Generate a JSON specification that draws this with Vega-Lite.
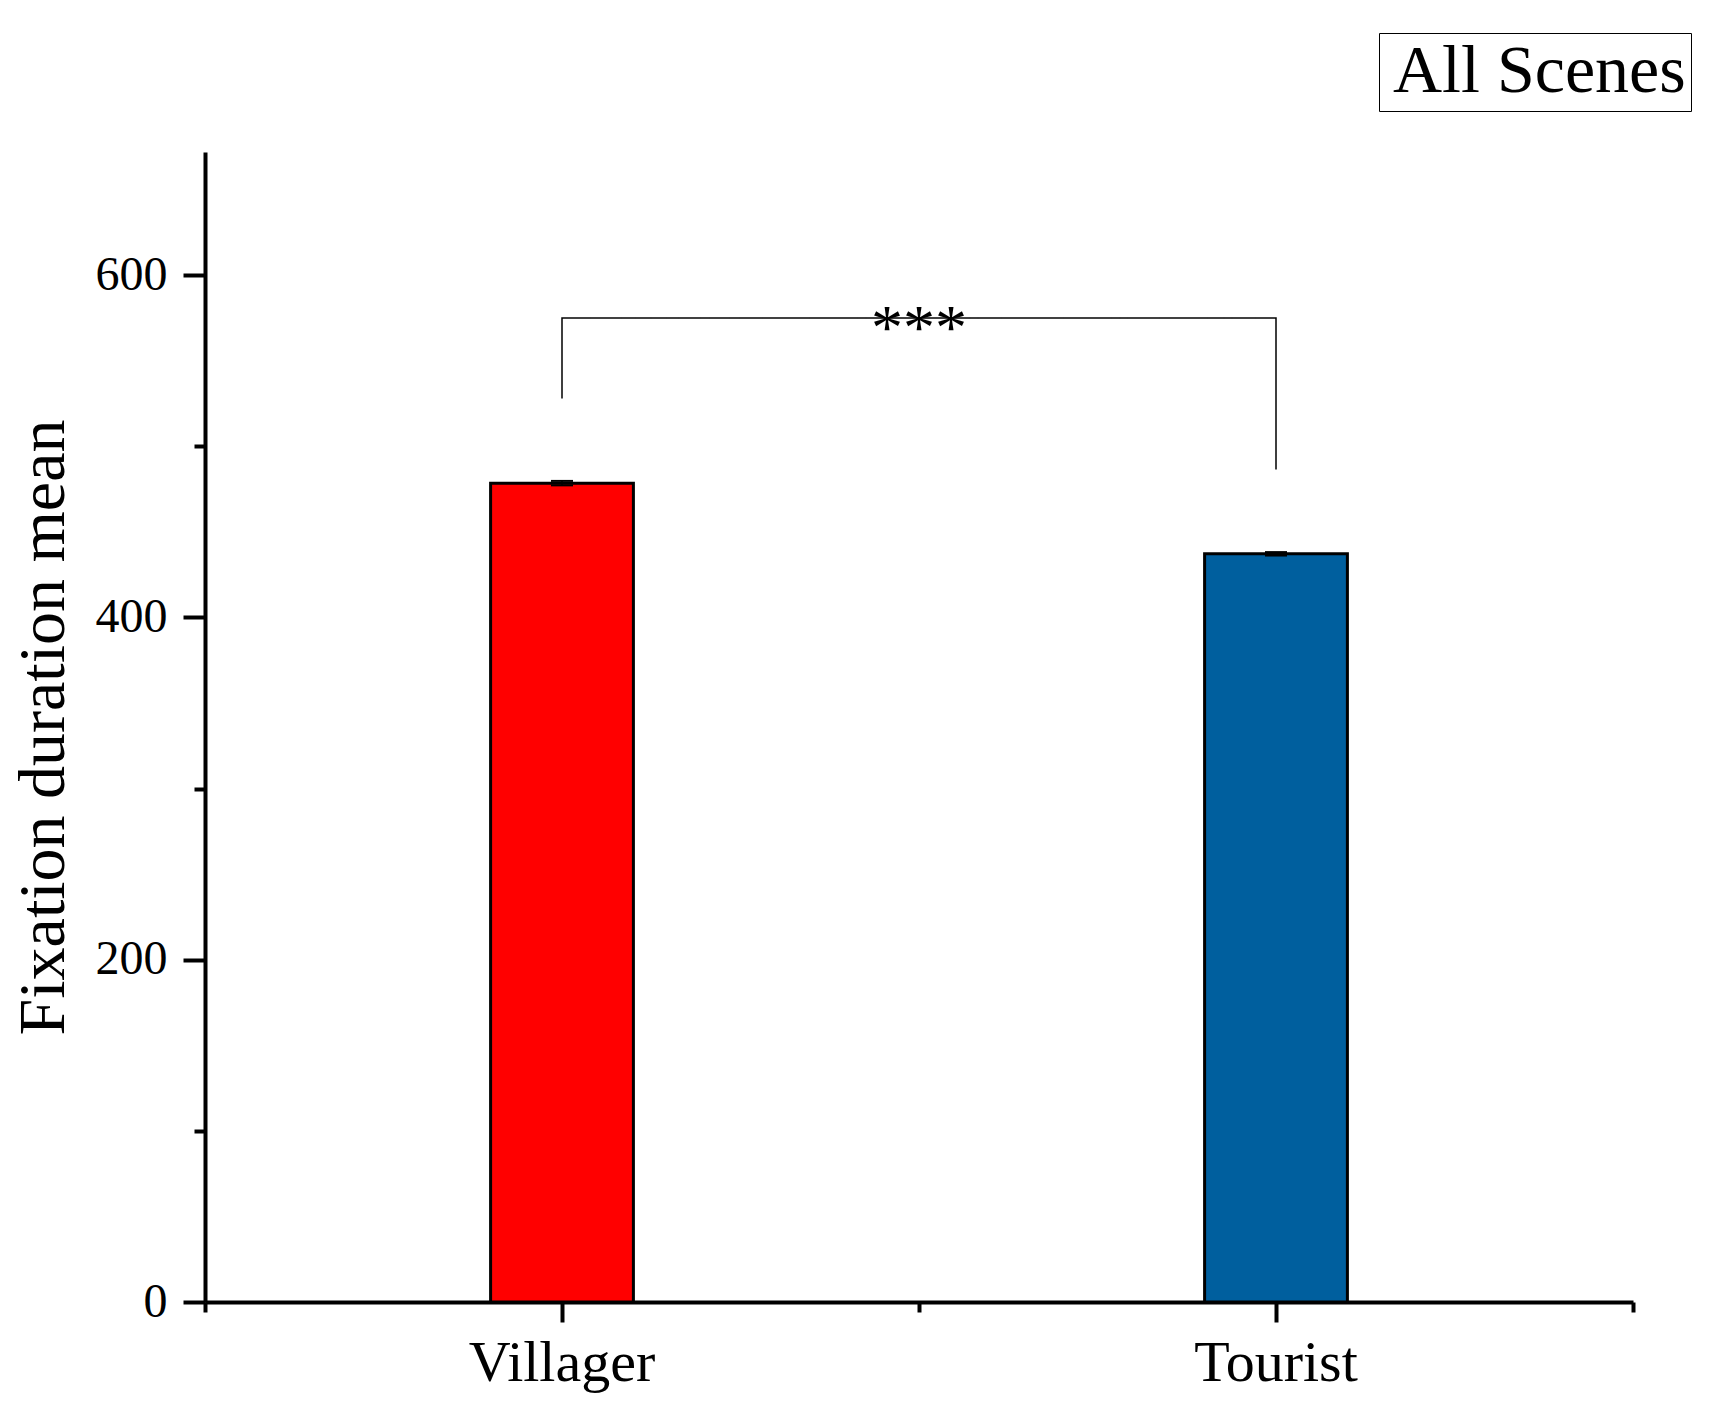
{
  "$schema": "https://vega.github.io/schema/vega-lite/v6.json",
  "autosize": {"type": "none"},
  "width": 1428,
  "height": 1150,
  "padding": {"left": 205, "top": 152, "right": 102, "bottom": 110},
  "background": "white",
  "config": {"view": {"stroke": null}, "font": "Liberation Serif"},
  "datasets": {
    "bars": [
      {"group": "Villager", "mean": 478.5, "lo": 477.2, "hi": 479.8},
      {"group": "Tourist", "mean": 437.2, "lo": 436.2, "hi": 438.2}
    ],
    "bracket": [
      {"group": "Villager", "y": 528, "step": 1},
      {"group": "Villager", "y": 575, "step": 2},
      {"group": "Tourist", "y": 575, "step": 3},
      {"group": "Tourist", "y": 486.5, "step": 4}
    ],
    "sig": [{"group": "Tourist", "y": 575, "label": "***"}]
  },
  "layer": [
    {
      "data": {"name": "bars"},
      "mark": {"type": "bar", "width": {"band": 0.2}, "stroke": "black", "strokeWidth": 3},
      "encoding": {
        "x": {
          "field": "group", "type": "nominal",
          "scale": {"domain": ["Villager", "Tourist"], "paddingInner": 0, "paddingOuter": 0},
          "axis": {
            "title": null, "orient": "bottom", "labelAngle": 0,
            "domainColor": "black", "domainWidth": 4,
            "tickColor": "black", "tickWidth": 4, "tickSize": 20,
            "labelFontSize": 58, "labelColor": "black", "labelPadding": 12,
            "labelFont": "Liberation Serif", "labelLimit": 0, "grid": false
          }
        },
        "y": {
          "field": "mean", "type": "quantitative",
          "scale": {"domain": [0, 672], "nice": false, "zero": true},
          "axis": {
            "title": "Fixation duration mean",
            "orient": "left",
            "values": [0, 100, 200, 300, 400, 500, 600],
            "labelExpr": "datum.value % 200 === 0 ? datum.label : ''",
            "tickSize": {"condition": {"test": "datum.value % 200 === 0", "value": 22}, "value": 11},
            "tickColor": "black", "tickWidth": 4,
            "domainColor": "black", "domainWidth": 4,
            "labelFontSize": 48, "labelColor": "black", "labelPadding": 16,
            "labelFont": "Liberation Serif", "labelLimit": 0,
            "titleFont": "Liberation Serif", "titleFontSize": 66, "titleFontWeight": "normal",
            "titleColor": "black", "titlePadding": 18, "titleLimit": 0, "grid": false
          }
        },
        "color": {
          "field": "group", "type": "nominal",
          "scale": {"domain": ["Villager", "Tourist"], "range": ["#FF0000", "#005F9E"]},
          "legend": null
        }
      }
    },
    {
      "data": {"name": "bars"},
      "mark": {"type": "bar", "width": {"band": 0.2}, "opacity": 0},
      "encoding": {
        "x": {
          "field": "group", "type": "nominal",
          "axis": {
            "title": null, "orient": "bottom", "labels": false, "domain": false,
            "tickBand": "extent", "tickSize": 10, "tickWidth": 4, "tickColor": "black", "grid": false
          }
        },
        "y": {"field": "mean", "type": "quantitative", "axis": null}
      }
    },
    {
      "data": {"name": "bars"},
      "mark": {"type": "rule", "color": "black", "strokeWidth": 1.5},
      "encoding": {
        "x": {"field": "group", "type": "nominal", "axis": null},
        "y": {"field": "lo", "type": "quantitative", "axis": null},
        "y2": {"field": "hi"}
      }
    },
    {
      "data": {"name": "bars"},
      "mark": {"type": "tick", "color": "black", "size": 22, "thickness": 2, "opacity": 1},
      "encoding": {
        "x": {"field": "group", "type": "nominal", "axis": null},
        "y": {"field": "hi", "type": "quantitative", "axis": null}
      }
    },
    {
      "data": {"name": "bars"},
      "mark": {"type": "tick", "color": "black", "size": 22, "thickness": 2, "opacity": 1},
      "encoding": {
        "x": {"field": "group", "type": "nominal", "axis": null},
        "y": {"field": "lo", "type": "quantitative", "axis": null}
      }
    },
    {
      "data": {"name": "bracket"},
      "mark": {"type": "line", "color": "black", "strokeWidth": 1.5},
      "encoding": {
        "x": {"field": "group", "type": "nominal", "axis": null},
        "y": {"field": "y", "type": "quantitative", "axis": null},
        "order": {"field": "step", "type": "quantitative"},
        "strokeDash": {
          "datum": "All Scenes", "type": "nominal",
          "scale": {"range": [[1, 0]]},
          "legend": {
            "title": null, "orient": "none", "legendX": 1174, "legendY": -119,
            "strokeColor": "black", "padding": 5,
            "symbolType": "circle", "symbolSize": 1, "symbolStrokeWidth": 0, "symbolOpacity": 0,
            "labelFontSize": 68, "labelFont": "Liberation Serif", "labelColor": "black",
            "labelOffset": -59, "labelLimit": 0
          }
        }
      }
    },
    {
      "data": {"name": "sig"},
      "mark": {"type": "text", "fontSize": 64, "baseline": "alphabetic", "align": "center", "dy": 31, "color": "black", "font": "Liberation Serif"},
      "encoding": {
        "x": {"field": "group", "type": "nominal", "bandPosition": 0, "axis": null},
        "y": {"field": "y", "type": "quantitative", "axis": null},
        "text": {"field": "label"}
      }
    }
  ],
  "resolve": {"axis": {"x": "independent", "y": "independent"}}
}
